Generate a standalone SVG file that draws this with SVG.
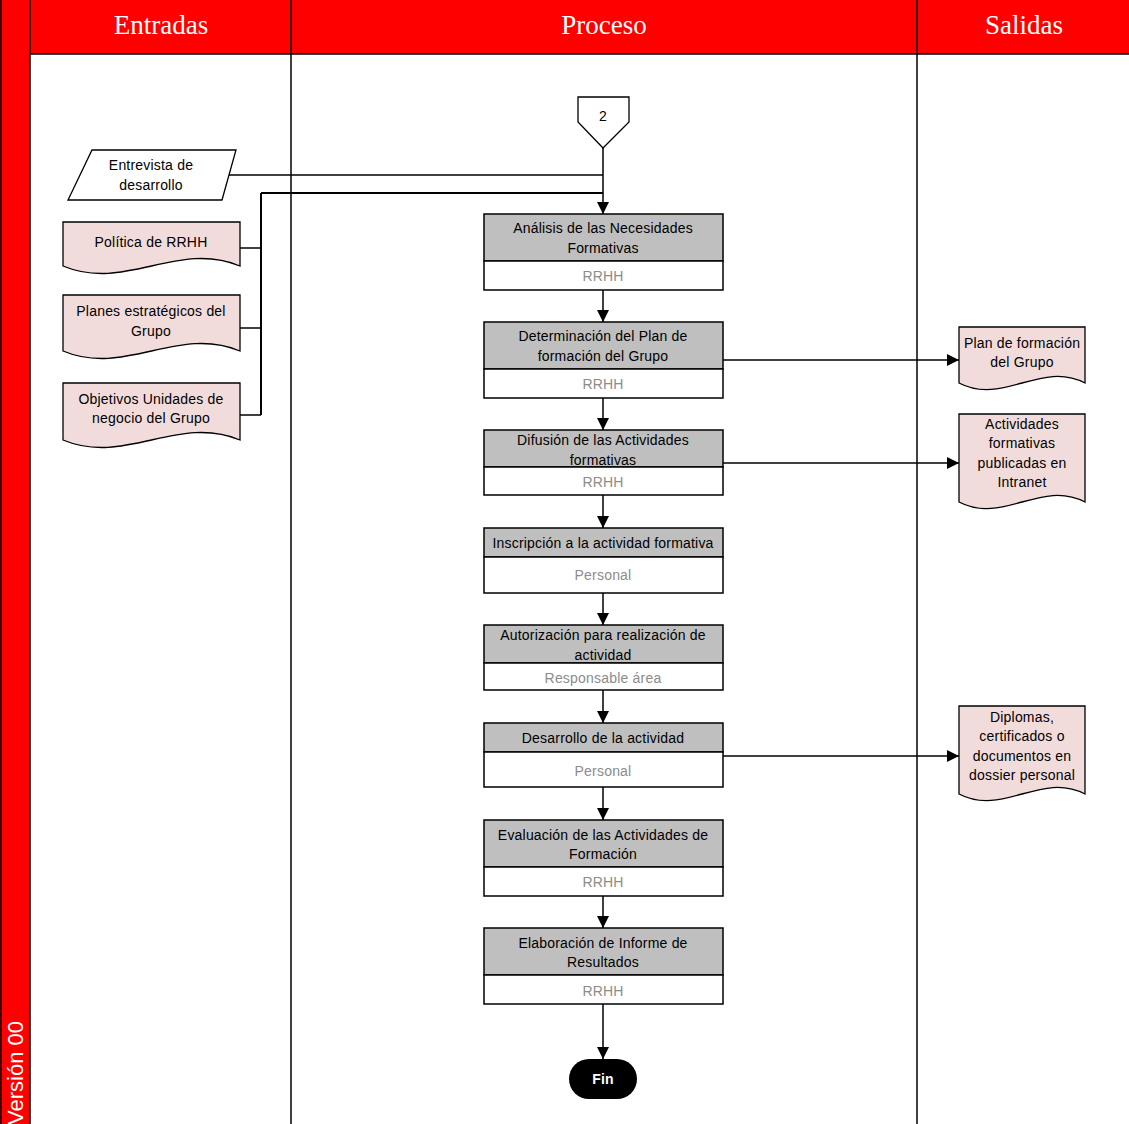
<svg xmlns="http://www.w3.org/2000/svg" width="1129" height="1124" viewBox="0 0 1129 1124">
  <style>
    .lane { fill: none; stroke: #000; stroke-width: 1.5; }
    .head { font-family: "Liberation Serif", "DejaVu Serif", serif; font-size: 27px; fill: #fff; text-anchor: middle; }
    .t { font-family: "Liberation Sans", Arial, sans-serif; font-size: 14px; fill: #000; text-anchor: middle; letter-spacing: 0.2px; }
    .role { fill: #8c8c8c; }
    .doc { fill: #f2dcdb; stroke: #000; stroke-width: 1.3; }
    .io { fill: #fff; stroke: #000; stroke-width: 1.3; }
    .act { fill: #bfbfbf; stroke: #000; stroke-width: 1.5; }
    .who { fill: #fff; stroke: #000; stroke-width: 1.5; }
    .wire { fill: none; stroke: #000; stroke-width: 1.5; }
    .bus { fill: none; stroke: #000; stroke-width: 2; }
  </style>
  <defs>
    <marker id="arr" markerWidth="12" markerHeight="12" refX="12" refY="6" orient="auto" markerUnits="userSpaceOnUse">
      <path d="M0,0 L12,6 L0,12 Z" fill="#000"/>
    </marker>
  </defs>

  <!-- swimlane frame -->
  <g id="lanes">
    <rect x="0" y="0" width="1129" height="1124" fill="#fff"/>
    <rect x="0" y="0" width="1129" height="54" fill="#ff0000"/>
    <rect x="0" y="0" width="30" height="1124" fill="#ff0000"/>
    <line class="lane" x1="1" y1="0" x2="1" y2="1124"/>
    <line class="lane" x1="30" y1="0" x2="30" y2="1124"/>
    <line class="lane" x1="30" y1="54" x2="1129" y2="54"/>
    <line class="lane" x1="291" y1="0" x2="291" y2="1124"/>
    <line class="lane" x1="917" y1="0" x2="917" y2="1124"/>
    <text class="head" x="161" y="34">Entradas</text>
    <text class="head" x="604" y="34">Proceso</text>
    <text class="head" x="1024" y="34">Salidas</text>
    <text x="23" y="1125" transform="rotate(-90 23 1125)" font-family="Liberation Sans, Arial, sans-serif" font-size="22" fill="#fff">Versión 00</text>
  </g>

  <!-- connectors -->
  <g id="connectors">
    <path class="wire" d="M603,148 V214" marker-end="url(#arr)"/>
    <path class="wire" d="M224,175 H603"/>
    <path class="bus" d="M261,193 H603"/>
    <path class="bus" d="M261,193 V415"/>
    <path class="wire" d="M240,248 H261"/>
    <path class="wire" d="M240,328 H261"/>
    <path class="wire" d="M240,415 H261"/>
    <path class="wire" d="M603,290 V322" marker-end="url(#arr)"/>
    <path class="wire" d="M603,398 V430" marker-end="url(#arr)"/>
    <path class="wire" d="M603,495 V528" marker-end="url(#arr)"/>
    <path class="wire" d="M603,593 V625" marker-end="url(#arr)"/>
    <path class="wire" d="M603,690 V723" marker-end="url(#arr)"/>
    <path class="wire" d="M603,787 V820" marker-end="url(#arr)"/>
    <path class="wire" d="M603,896 V928" marker-end="url(#arr)"/>
    <path class="wire" d="M603,1004 V1059" marker-end="url(#arr)"/>
    <path class="wire" d="M723,360 H959" marker-end="url(#arr)"/>
    <path class="wire" d="M723,463 H959" marker-end="url(#arr)"/>
    <path class="wire" d="M723,756 H959" marker-end="url(#arr)"/>
  </g>

  <!-- off-page reference -->
  <g id="ref2">
    <path class="io" d="M578,97 H629 V122 L603,148 L578,122 Z"/>
    <text class="t" x="603" y="121">2</text>
  </g>

  <!-- inputs -->
  <g id="in-entrevista">
    <path class="io" d="M92,150 H236 L222,200 H68 Z"/>
    <text class="t" x="151" y="170">Entrevista de</text>
    <text class="t" x="151" y="190">desarrollo</text>
  </g>
  <g id="in-politica">
    <path class="doc" d="M63,222 H240 V266 C178,240 125,292 63,266 Z"/>
    <text class="t" x="151" y="247">Política de RRHH</text>
  </g>
  <g id="in-planes">
    <path class="doc" d="M63,295 H240 V351 C178,325 125,377 63,351 Z"/>
    <text class="t" x="151" y="316">Planes estratégicos del</text>
    <text class="t" x="151" y="336">Grupo</text>
  </g>
  <g id="in-objetivos">
    <path class="doc" d="M63,383 H240 V440 C178,414 125,466 63,440 Z"/>
    <text class="t" x="151" y="404">Objetivos Unidades de</text>
    <text class="t" x="151" y="423">negocio del Grupo</text>
  </g>

  <!-- process steps -->
  <g id="step-analisis">
    <rect class="act" x="484" y="214" width="239" height="47"/>
    <rect class="who" x="484" y="261" width="239" height="29"/>
    <text class="t" x="603" y="233">Análisis de las Necesidades</text>
    <text class="t" x="603" y="253">Formativas</text>
    <text class="t role" x="603" y="281">RRHH</text>
  </g>
  <g id="step-plan">
    <rect class="act" x="484" y="322" width="239" height="47"/>
    <rect class="who" x="484" y="369" width="239" height="29"/>
    <text class="t" x="603" y="341">Determinación del Plan de</text>
    <text class="t" x="603" y="361">formación del Grupo</text>
    <text class="t role" x="603" y="389">RRHH</text>
  </g>
  <g id="step-difusion">
    <rect class="act" x="484" y="430" width="239" height="37"/>
    <rect class="who" x="484" y="467" width="239" height="28"/>
    <text class="t" x="603" y="445">Difusión de las Actividades</text>
    <text class="t" x="603" y="465">formativas</text>
    <text class="t role" x="603" y="487">RRHH</text>
  </g>
  <g id="step-inscripcion">
    <rect class="act" x="484" y="528" width="239" height="29"/>
    <rect class="who" x="484" y="557" width="239" height="36"/>
    <text class="t" x="603" y="548">Inscripción a la actividad formativa</text>
    <text class="t role" x="603" y="580">Personal</text>
  </g>
  <g id="step-autorizacion">
    <rect class="act" x="484" y="625" width="239" height="38"/>
    <rect class="who" x="484" y="663" width="239" height="27"/>
    <text class="t" x="603" y="640">Autorización para realización de</text>
    <text class="t" x="603" y="660">actividad</text>
    <text class="t role" x="603" y="683">Responsable área</text>
  </g>
  <g id="step-desarrollo">
    <rect class="act" x="484" y="723" width="239" height="29"/>
    <rect class="who" x="484" y="752" width="239" height="35"/>
    <text class="t" x="603" y="743">Desarrollo de la actividad</text>
    <text class="t role" x="603" y="776">Personal</text>
  </g>
  <g id="step-evaluacion">
    <rect class="act" x="484" y="820" width="239" height="47"/>
    <rect class="who" x="484" y="867" width="239" height="29"/>
    <text class="t" x="603" y="840">Evaluación de las Actividades de</text>
    <text class="t" x="603" y="859">Formación</text>
    <text class="t role" x="603" y="887">RRHH</text>
  </g>
  <g id="step-informe">
    <rect class="act" x="484" y="928" width="239" height="47"/>
    <rect class="who" x="484" y="975" width="239" height="29"/>
    <text class="t" x="603" y="948">Elaboración de Informe de</text>
    <text class="t" x="603" y="967">Resultados</text>
    <text class="t role" x="603" y="996">RRHH</text>
  </g>
  <g id="end">
    <rect x="569" y="1059" width="68" height="40" rx="20" ry="20" fill="#000"/>
    <text class="t" x="603" y="1084" font-weight="bold" style="fill:#fff">Fin</text>
  </g>

  <!-- outputs -->
  <g id="out-plan">
    <path class="doc" d="M959,327 H1085 V383 C1041,360 1003,406 959,383 Z"/>
    <text class="t" x="1022" y="348">Plan de formación</text>
    <text class="t" x="1022" y="367">del Grupo</text>
  </g>
  <g id="out-actividades">
    <path class="doc" d="M959,414 H1085 V502 C1041,479 1003,525 959,502 Z"/>
    <text class="t" x="1022" y="429">Actividades</text>
    <text class="t" x="1022" y="448">formativas</text>
    <text class="t" x="1022" y="468">publicadas en</text>
    <text class="t" x="1022" y="487">Intranet</text>
  </g>
  <g id="out-diplomas">
    <path class="doc" d="M959,706 H1085 V794 C1041,771 1003,817 959,794 Z"/>
    <text class="t" x="1022" y="722">Diplomas,</text>
    <text class="t" x="1022" y="741">certificados o</text>
    <text class="t" x="1022" y="761">documentos en</text>
    <text class="t" x="1022" y="780">dossier personal</text>
  </g>
</svg>
